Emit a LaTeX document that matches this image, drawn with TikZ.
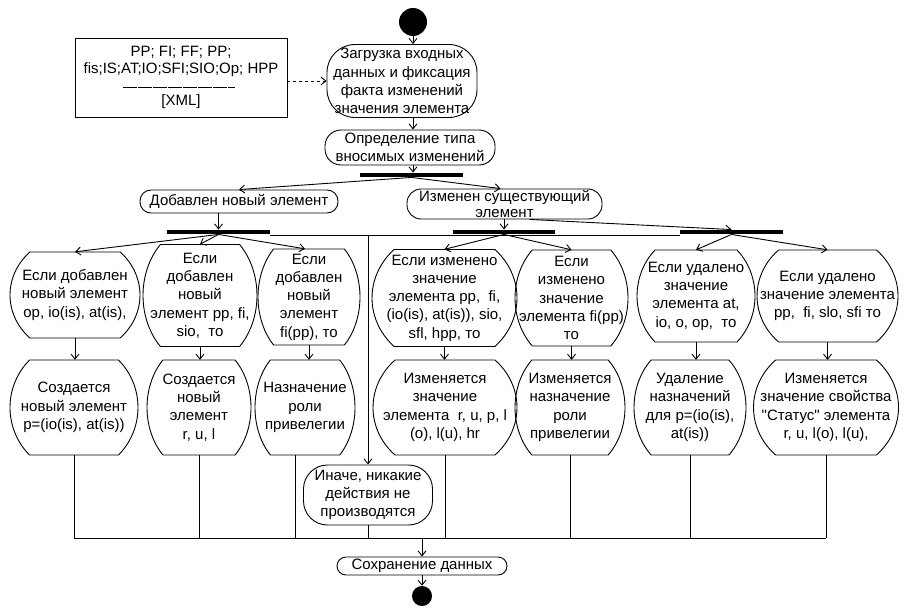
\documentclass[tikz,border=0pt]{standalone}
\usepackage{fontspec}
\setmainfont{Liberation Sans}[Ligatures=TeXOff]
\usetikzlibrary{arrows.meta,calc}

% condition / action state: an ellipse cut flat at top and bottom
\newcommand\condnode[6]{%
  \node[base, minimum width=#4pt, minimum height=#5pt] (#1) at (#2,#3) {#6};
  \pgfmathsetmacro\rimA{#4/2}%
  \pgfmathsetmacro\rimH{#5/2}%
  \pgfmathsetmacro\rimB{\rimH/sin(46)}%
  \pgfmathsetmacro\rimC{\rimA*cos(46)}%
  \draw[wire] ([shift={(\rimC pt,\rimH pt)}]#1.center)
    arc[start angle=46, end angle=-46, x radius=\rimA pt, y radius=\rimB pt]
    -- ([shift={(-\rimC pt,-\rimH pt)}]#1.center)
    arc[start angle=226, end angle=134, x radius=\rimA pt, y radius=\rimB pt]
    -- cycle;
}

\tikzset{
  base/.style={font=\fontsize{15}{18.3}\selectfont, align=center, inner sep=0pt},
  wire/.style={line width=0.9pt},
  flow/.style={wire, -{Straight Barb[length=5pt,width=8pt]}},
  pill/.style={base, draw, wire, rounded corners=#1},
  bar/.style={fill=black, minimum height=4.5pt, inner sep=0pt, minimum width=#1},
  dot/.style={circle, fill=black, inner sep=0pt, minimum size=#1}
}

\begin{document}
\begin{tikzpicture}[x=1pt, y=-1pt]
\path[use as bounding box, fill=white] (0,0) rectangle (907,610);

% start and input data
\node[dot=28pt] (start) at (413,22) {};
\node[pill=28pt, minimum width=150pt, minimum height=73pt] (load) at (402,81)
  {Загрузка входных\\данных и фиксация\\факта изменений\\значения элемента};
\node[draw, wire, minimum width=212pt, minimum height=79pt] (src) at (181,78) {};
\node[base] (src1) at (181,52) {PP; FI; FF; PP;};
\node[base] (src2) at (181,70) {fis;IS;AT;IO;SFI;SIO;Op; HPP};
\node[base] (src3) at (181,102) {[XML]};
\draw[line width=0.8pt, dash pattern=on 14pt off 1pt] (123,87) -- (235,87);
\draw[flow, dashed] (src.east |- load.west) -- (load.west);
\draw[flow] (start.south) -- (start.south |- load.north);

% classification of the change
\node[pill=16pt, minimum width=170pt, minimum height=35pt] (kind) at (410,147.5)
  {Определение типа\\вносимых изменений};
\draw[flow] (load.south -| start) -- (kind.north -| start);
\node[bar=103pt] (fork1) at (411.5,175) {};
\draw[flow] (kind.south -| start) -- (fork1.north -| start);

\node[pill=11pt, minimum width=198pt, minimum height=23pt] (added) at (239,201.5)
  {Добавлен новый элемент};
\node[pill=14pt, minimum width=195pt, minimum height=30pt,
      font=\fontsize{15}{16.5}\selectfont] (changed) at (504.5,204)
  {Изменен существующий\\элемент};
\draw[flow] (fork1.south) -- (added.north);
\draw[flow] (fork1.south) -- ([xshift=-4pt]changed.north);

\node[bar=103pt] (fork2) at (218.5,232) {};
\node[bar=102pt] (fork3) at (504,232) {};
\node[bar=103pt] (fork4) at (731.5,232) {};
\draw[flow] (added.south -| fork2) -- (fork2.north);
\draw[flow] (changed.south -| fork3) -- (fork3.north);
\draw[flow] ([xshift=25pt]changed.south) -- (fork4.north);

% "else" branch line
\coordinate (elseL) at (270,235);
\coordinate (elseR) at (680,235);
\coordinate (elseTap) at (368,235);
\draw[wire] (elseL) -- (elseR);

% conditions
\condnode{A1}{75}{295}{130}{86}{Если добавлен\\новый элемент\\op, io(is), at(is),}
\condnode{A2}{200}{295.5}{114}{102}{Если\\добавлен\\новый\\элемент pp, fi,\\sio,\ \ то}
\condnode{A3}{309}{297}{102}{96}{Если\\добавлен\\новый\\элемент\\fi(pp), то}
\condnode{B1}{444.5}{298}{145}{97}{Если изменено\\значение\\элемента pp,\ \ fi,\\(io(is), at(is)), sio,\\sfl, hpp, то}
\condnode{B2}{571.5}{298}{113}{96}{Если\\изменено\\значение\\элемента fi(pp)\\то}
\condnode{C1}{696}{296}{118}{92}{Если удалено\\значение\\элемента at,\\io, o, op,\ \ то}
\condnode{C2}{827.5}{296}{141}{92}{Если удалено\\значение элемента\\pp,\ \ fi, slo, sfi то}

\draw[flow] (fork2.south) -- (A1.north);
\draw[flow] (fork2.south) -- (A2.north);
\draw[flow] (fork2.south) -- ([xshift=-4pt]A3.north);
\draw[flow] (fork3.south) -- (B1.north);
\draw[flow] (fork3.south) -- (B2.north);
\draw[flow] (fork4.south) -- (C1.north);
\draw[flow] (fork4.south) -- (C2.north);

% actions
\condnode{A1b}{74}{407.5}{128}{95}{Создается\\новый элемент\\p=(io(is), at(is))}
\condnode{A2b}{199}{407.5}{104}{95}{Создается\\новый\\элемент\\r, u, l}
\condnode{A3b}{305}{407.5}{100}{95}{Назначение\\роли\\привелегии}
\condnode{B1b}{445}{407.5}{144}{95}{Изменяется\\значение\\элемента\ \ r, u, p, l\\(o), l(u), hr}
\condnode{B2b}{570}{407.5}{110}{95}{Изменяется\\назначение\\роли\\привелегии}
\condnode{C1b}{690}{407.5}{112}{95}{Удаление\\назначений\\для p=(io(is),\\at(is))}
\condnode{C2b}{826}{407.5}{145}{95}{Изменяется\\значение свойства\\"Статус" элемента\\r, u, l(o), l(u),}

\foreach \a/\b in {A1/A1b, A2/A2b, A3/A3b, B1/B1b, B2/B2b, C1/C1b, C2/C2b}
  \draw[flow] (\a.south) -- (\a.south |- \b.north);

% no action
\node[pill=24pt, minimum width=129pt, minimum height=60pt] (none) at (368,495)
  {Иначе, никакие\\действия не\\производятся};
\draw[flow] (elseTap) -- (none.north);

% join and save
\coordinate (jL) at (74,538);
\coordinate (jR) at (826,538);
\draw[wire] (jL) -- (jR);
\foreach \b in {A1b, A2b, B1b, B2b, C1b, C2b}
  \draw[wire] (\b.south) -- (\b.south |- jL);
\draw[wire] ([xshift=-10pt]A3b.south) -- ([xshift=-10pt]A3b.south |- jL);
\draw[wire] (none.south) -- (none.south |- jL);

\node[pill=9pt, minimum width=170pt, minimum height=18pt] (save) at (422,566)
  {Сохранение данных};
\draw[flow] (save.north |- jL) -- (save.north);
\node[dot=20pt] (stop) at (422,596) {};
\draw[flow] (save.south) -- (stop.north);
\end{tikzpicture}
\end{document}
